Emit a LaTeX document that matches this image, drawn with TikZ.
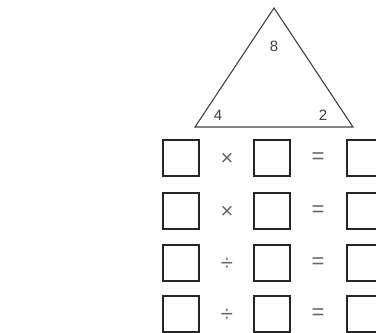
\documentclass[tikz,border=0pt]{standalone}
\usepackage{fontspec}
\setmainfont{Liberation Sans}
\usetikzlibrary{positioning}

\begin{document}
\begin{tikzpicture}[
      x=1pt, y=-1pt,
      answerbox/.style={
        draw=black!85,
        line width=1.6pt,
        minimum size=36pt,
        inner sep=0pt
      },
      op/.style={
        font=\fontsize{22}{24}\selectfont,
        text=black!60
      },
      num/.style={
        font=\fontsize{15}{17}\selectfont,
        text=black!75,
        inner sep=0pt
      },
      edge/.style={line width=1.1pt, draw=black!75, line join=miter}
    ]

    \useasboundingbox (0,0) rectangle (376,333);
    \clip (0,0) rectangle (376,333);

    % Corners of the fact triangle
    \coordinate (T) at (274,8);    % top
    \coordinate (L) at (195,127);  % bottom left
    \coordinate (R) at (353,127);  % bottom right

    \draw[edge] (T) -- (R) -- (L) -- cycle;

    % Numbers in the corners
    \node[num] (top) at (274,46) {8};
    \node[num] (left) at (218,115) {4};
    \node[num] (right) at (323,115) {2};

    % Row 1
    \node[answerbox] (a1) at (181,158) {};
    \node[op] (x1) at (227,159) {×};
    \node[answerbox] (b1) at (272,158) {};
    \node[op] (e1) at (318,158) {=};
    \node[answerbox] (c1) at (365,158) {};

    % Row 2
    \node[answerbox] (a2) at (181,211) {};
    \node[op] (x2) at (227,212) {×};
    \node[answerbox] (b2) at (272,211) {};
    \node[op] (e2) at (318,211) {=};
    \node[answerbox] (c2) at (365,211) {};

    % Row 3
    \node[answerbox] (a3) at (181,263) {};
    \node[op] (x3) at (227,264) {÷};
    \node[answerbox] (b3) at (272,263) {};
    \node[op] (e3) at (318,263) {=};
    \node[answerbox] (c3) at (365,263) {};

    % Row 4
    \node[answerbox] (a4) at (181,314) {};
    \node[op] (x4) at (227,315) {÷};
    \node[answerbox] (b4) at (272,314) {};
    \node[op] (e4) at (318,314) {=};
    \node[answerbox] (c4) at (365,314) {};

    \end{tikzpicture}
\end{document}
